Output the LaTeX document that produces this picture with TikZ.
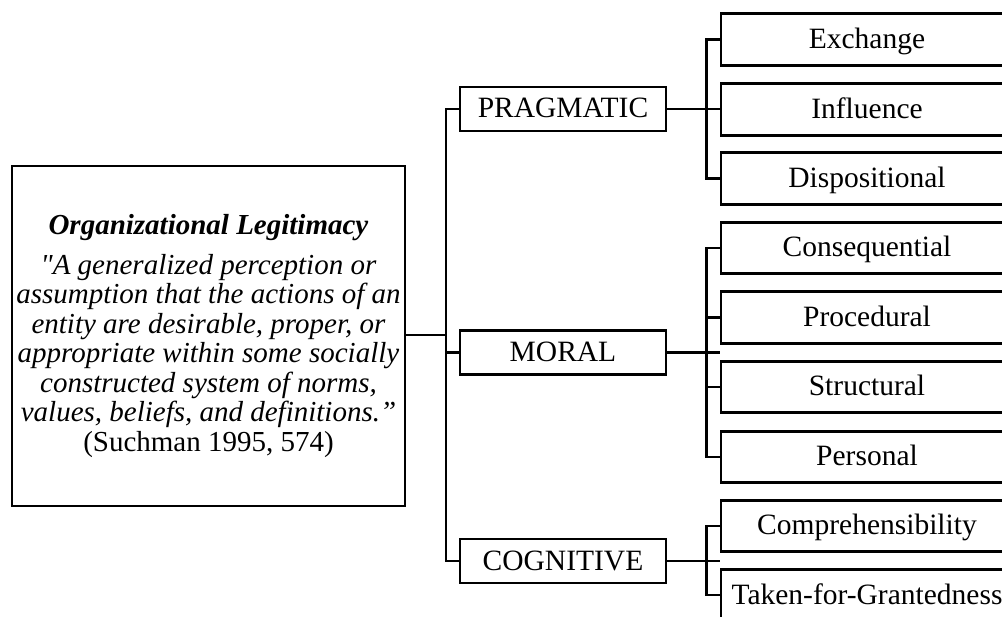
\documentclass[tikz,border=0pt]{standalone}
\usepackage{fontspec}
\setmainfont{Liberation Serif}[Ligatures=TeXOff,
  BoldFont={Liberation Serif Bold},
  ItalicFont={Liberation Serif Italic},
  BoldItalicFont={Liberation Serif Bold Italic}]
\begin{document}
\begin{tikzpicture}[x=1pt,y=-1pt,
  lbl/.style={font=\fontsize{29.5}{29.5}\selectfont, text height=19pt, text depth=1pt},
  midbox/.style={draw, line width=2.6pt, minimum width=206pt, minimum height=44pt, inner sep=0pt, lbl},
  leafbox/.style={draw, line width=2.6pt, minimum width=292pt, minimum height=51.5pt, inner sep=0pt, lbl},
  conn/.style={line width=2.6pt, line join=miter}]
\useasboundingbox (0,0) rectangle (1002,617);
\clip (0,0) rectangle (1002,617);
% left box
\node[draw, line width=2.6pt, minimum width=393pt, minimum height=340pt,
      inner sep=0pt, align=center, font=\fontsize{29}{29.5}\selectfont] (L) at (208.5,336)
  {\textbf{\textit{Organizational Legitimacy}}\\[10.5pt]
   \textit{"A generalized perception or}\\
   \textit{assumption that the actions of an}\\
   \textit{entity are desirable, proper, or}\\
   \textit{appropriate within some socially}\\
   \textit{constructed system of norms,}\\
   \textit{values, beliefs, and definitions.”}\\
   (Suchman 1995, 574)};
% middle boxes
\node[midbox] (P) at (563,109) {PRAGMATIC};
\node[midbox] (M) at (563,352.5) {MORAL};
\node[midbox] (C) at (563,561) {COGNITIVE};
% leaf boxes
\node[leafbox] (Ex) at (867,39.5) {Exchange};
\node[leafbox] (In) at (867,109.5) {Influence};
\node[leafbox] (Di) at (867,178.5) {Dispositional};
\node[leafbox] (Co) at (867,248) {Consequential};
\node[leafbox] (Pr) at (867,317.5) {Procedural};
\node[leafbox] (St) at (867,387) {Structural};
\node[leafbox] (Pe) at (867,457) {Personal};
\node[leafbox] (Cm) at (867,526) {Comprehensibility};
\node[leafbox] (Ta) at (867,595) {Taken-for-Grantedness};
% trunk on the left
\coordinate (tl) at (446,335);
\draw[conn] (L.east |- tl) -- (tl);
\draw[conn] (P.west) -| (tl);
\draw[conn] (C.west) -| (tl);
\draw[conn] (M.west) -- (M.west -| tl);
% pragmatic branches
\draw[conn] (P.east) -- (P.east -| In.west);
\draw[conn] (Ex.west) -- ++(-13,0) |- (Di.west);
% moral branches
\draw[conn] (M.east) -- (M.east -| Co.west);
\draw[conn] (Co.west) -- ++(-13,0) |- (Pe.west);
\draw[conn] (Pr.west) -- ++(-13,0);
\draw[conn] (St.west) -- ++(-13,0);
% cognitive branches
\draw[conn] (C.east) -- (C.east -| Cm.west);
\draw[conn] (Cm.west) -- ++(-13,0) |- (Ta.west);
\end{tikzpicture}
\end{document}
